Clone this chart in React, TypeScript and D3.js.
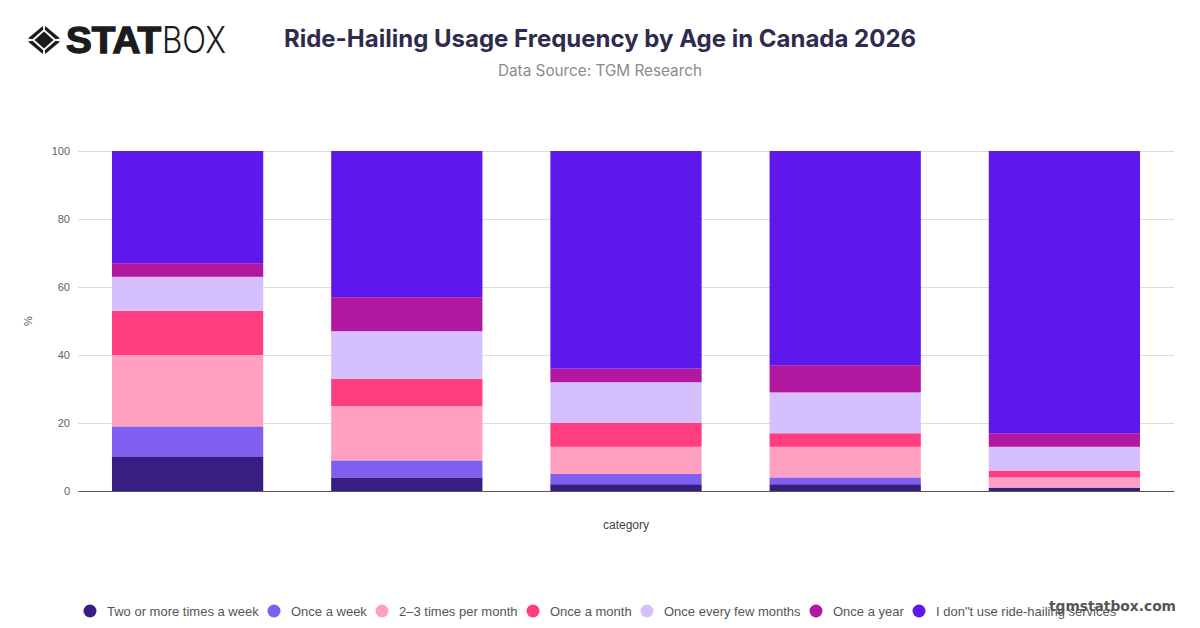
import React, { useEffect, useRef } from "react";
import * as d3 from "d3";

const categories = ["a", "b", "c", "d", "e"];
const seriesNames = [
  "Two or more times a week",
  "Once a week",
  "2–3 times per month",
  "Once a month",
  "Once every few months",
  "Once a year",
  'I don"t use ride-hailing services',
];
const twoOrMore = [10, 4, 2, 2, 1];
const onceWeek = [9, 5, 3, 2, 0];
const twoThreeMonth = [21, 16, 8, 9, 3];
const onceMonth = [13, 8, 7, 4, 2];
const fewMonths = [10, 14, 12, 12, 7];
const onceYear = [4, 10, 4, 8, 4];
const dontUse = [33, 43, 64, 63, 83];
const colors = ["#371e83", "#7f5ff0", "#ffa0c0", "#ff3d80", "#d5bffc", "#b2179f", "#5f18ec"];
const yTicks = [0, 20, 40, 60, 80, 100];

const font = "Inter, 'Noto Sans', sans-serif";
const helv = "'Liberation Sans', Arial, sans-serif";

export default function App() {
  const ref = useRef<SVGSVGElement | null>(null);

  useEffect(() => {
    const svg = d3.select(ref.current as any);
    svg.selectAll("*").remove();

    const x = d3.scaleBand().domain(categories).range([78, 1174]).paddingInner(0.31).paddingOuter(0.155);
    const y = d3.scaleLinear().domain([0, 100]).range([491, 151]);

    // title
    svg.append("text").attr("x", 600).attr("y", 47).attr("text-anchor", "middle")
      .attr("font-family", font).attr("font-size", 24).attr("font-weight", 700)
      .attr("fill", "#2f2b4d").text("Ride-Hailing Usage Frequency by Age in Canada 2026");
    svg.append("text").attr("x", 600).attr("y", 76).attr("text-anchor", "middle")
      .attr("font-family", font).attr("font-size", 15.3).attr("fill", "#8b8b8b")
      .text("Data Source: TGM Research");

    // logo
    const logo = svg.append("g").attr("fill", "#1c1c1c");
    logo.append("path").attr("d", "M44 25 L62 40 L44 55 L26 40 Z");
    logo.append("path").attr("d", "M44 29 L56.5 40 L44 51 L31.5 40 Z").attr("fill", "#fff");
    logo.append("path").attr("d", "M44 31.5 L53.5 40 L44 48.5 L34.5 40 Z");
    logo.append("path").attr("d", "M26 38.5 L34 40 L26 41.5 Z M62 38.5 L54 40 L62 41.5 Z M43 25 L44 30 L45 25 Z M43 55 L44 50 L45 55 Z")
      .attr("fill", "#fff").attr("stroke", "#fff").attr("stroke-width", 1);
    logo.append("text").attr("x", 66).attr("y", 53).attr("font-family", helv)
      .attr("font-size", 37).attr("font-weight", 700).attr("textLength", 95).attr("lengthAdjust", "spacingAndGlyphs")
      .attr("stroke", "#1c1c1c").attr("stroke-width", 1.4)
      .text("STAT");
    logo.append("text").attr("x", 162).attr("y", 53).attr("font-family", font)
      .attr("font-size", 37).attr("font-weight", 300).attr("textLength", 64).attr("lengthAdjust", "spacingAndGlyphs")
      .text("BOX");

    // y axis grid + labels
    const axis = svg.append("g").attr("transform", "translate(78,0)")
      .call(d3.axisLeft(y).tickValues(yTicks).tickSize(-1096).tickPadding(8));
    axis.select(".domain").remove();
    axis.selectAll(".tick line").attr("stroke", "#dcdcdc");
    axis.selectAll("text").attr("fill", "#5f5f5f").attr("font-family", helv).attr("font-size", 11);

    // stacked bars
    const rows = categories.map((c, i) => ({
      c,
      s0: twoOrMore[i], s1: onceWeek[i], s2: twoThreeMonth[i], s3: onceMonth[i],
      s4: fewMonths[i], s5: onceYear[i], s6: dontUse[i],
    }));
    const keys = ["s0", "s1", "s2", "s3", "s4", "s5", "s6"];
    const stacked = d3.stack<any>().keys(keys)(rows);
    svg.append("g").selectAll("g").data(stacked).enter().append("g")
      .attr("fill", (_, i) => colors[i])
      .selectAll("rect").data((d) => d).enter().append("rect")
      .attr("x", (d: any) => x(d.data.c) as number)
      .attr("width", x.bandwidth())
      .attr("y", (d: any) => y(d[1]))
      .attr("height", (d: any) => y(d[0]) - y(d[1]));

    // baseline
    const base = d3.axisBottom(x).tickSize(0).tickFormat(() => "");
    const bottom = svg.append("g").attr("transform", `translate(0,${y(0)})`).call(base);
    bottom.select(".domain").attr("stroke", "#555").attr("stroke-width", 1.2);

    // axis titles
    svg.append("text").attr("x", 626).attr("y", 529).attr("text-anchor", "middle")
      .attr("font-family", helv).attr("font-size", 12).attr("fill", "#444").text("category");
    svg.append("text").attr("transform", "translate(32,321) rotate(-90)").attr("text-anchor", "middle")
      .attr("font-family", helv).attr("font-size", 11).attr("fill", "#555").text("%");

    // legend
    const legendX = [90, 274, 382, 533, 647, 816, 919];
    const legend = svg.append("g").selectAll("g").data(seriesNames).enter().append("g")
      .attr("transform", (_, i) => `translate(${legendX[i]},611)`);
    legend.append("circle").attr("r", 6.5).attr("fill", (_, i) => colors[i]);
    legend.append("text").attr("x", 17).attr("y", 4.5).attr("font-family", helv)
      .attr("font-size", 13).attr("fill", "#555").text((d) => d);

    // watermark sits over the last legend entry, as in the source image
    svg.append("text").attr("x", 1176).attr("y", 611).attr("text-anchor", "end")
      .attr("font-family", "'DejaVu Sans', sans-serif").attr("font-size", 13.8).attr("font-weight", 700)
      .attr("fill", "#555").text("tgmstatbox.com");
  }, []);

  return (
    <svg
      ref={ref}
      width={1200}
      height={628}
      style={{ position: "absolute", left: 0, top: 0, background: "#fff" }}
    />
  );
}
